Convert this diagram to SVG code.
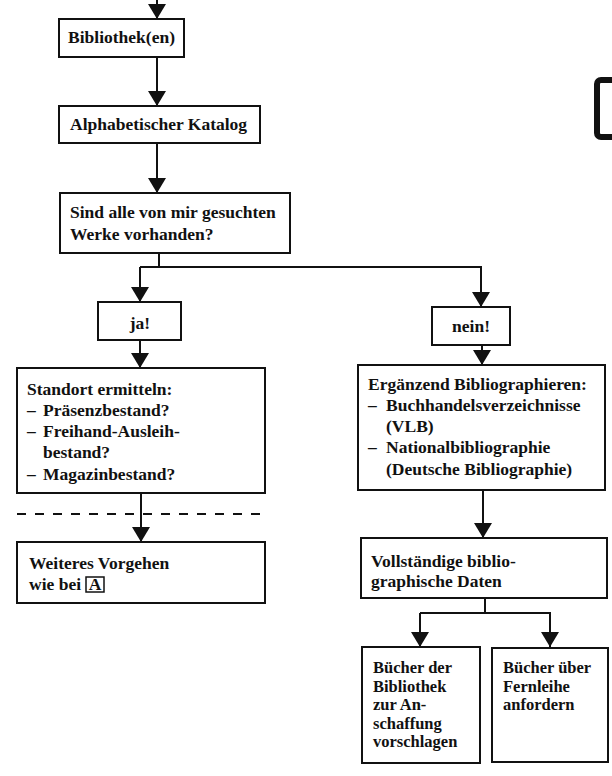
<svg xmlns="http://www.w3.org/2000/svg" width="612" height="776" viewBox="0 0 612 776">
<style>
.box{fill:#fff;stroke:#111;stroke-width:2}
.t{font-family:"Liberation Serif","Times New Roman",serif;font-weight:bold;font-size:17.5px;fill:#111}
.s{font-size:16.5px}
.c{fill:none;stroke:#111;stroke-width:2}
</style>
<defs>
<marker id="ah" markerUnits="userSpaceOnUse" markerWidth="16" markerHeight="18" refX="15" refY="9" orient="auto" viewBox="0 0 16 18">
<path d="M0,0 L15,9 L0,18 Z" fill="#111"/>
</marker>
</defs>
<rect width="612" height="776" fill="#fff"/>
<g id="connectors">
<line class="c" x1="157" y1="0" x2="157" y2="19" marker-end="url(#ah)"/>
<line class="c" x1="157" y1="57" x2="157" y2="106" marker-end="url(#ah)"/>
<line class="c" x1="157" y1="143" x2="157" y2="193" marker-end="url(#ah)"/>
<polyline class="c" points="159,253 159,267"/>
<polyline class="c" points="140,267 481,267 481,307" marker-end="url(#ah)"/>
<line class="c" x1="140" y1="267" x2="140" y2="302" marker-end="url(#ah)"/>
<line class="c" x1="140" y1="340" x2="140" y2="368" marker-end="url(#ah)"/>
<line class="c" x1="141" y1="493" x2="141" y2="542" marker-end="url(#ah)"/>
<line class="c" x1="17" y1="514" x2="260" y2="514" stroke-dasharray="9,9"/>
<line class="c" x1="482" y1="345" x2="482" y2="365" marker-end="url(#ah)"/>
<line class="c" x1="483" y1="490" x2="483" y2="538" marker-end="url(#ah)"/>
<polyline class="c" points="485,598 485,613"/>
<polyline class="c" points="420,613 550,613 550,647" marker-end="url(#ah)"/>
<line class="c" x1="420" y1="613" x2="420" y2="647" marker-end="url(#ah)"/>
</g>
<g id="n-bibliothek">
<rect class="box" x="59" y="19" width="125" height="38"/>
<text class="t" x="68" y="43">Bibliothek(en)</text>
</g>
<g id="n-katalog">
<rect class="box" x="59" y="106" width="201" height="37"/>
<text class="t" x="70" y="130">Alphabetischer Katalog</text>
</g>
<g id="n-frage">
<rect class="box" x="60" y="193" width="230" height="60"/>
<text class="t" x="70" y="218">Sind alle von mir gesuchten</text>
<text class="t" x="70" y="240">Werke vorhanden?</text>
</g>
<g id="n-ja">
<rect class="box" x="98" y="302" width="83" height="38"/>
<text class="t" x="140" y="329" text-anchor="middle">ja!</text>
</g>
<g id="n-standort">
<rect class="box" x="17" y="368" width="248" height="125"/>
<text class="t" x="27" y="395">Standort ermitteln:</text>
<text class="t" x="27" y="416">–</text><text class="t" x="43" y="416">Präsenzbestand?</text>
<text class="t" x="27" y="437">–</text><text class="t" x="43" y="437">Freihand-Ausleih-</text>
<text class="t" x="43" y="458">bestand?</text>
<text class="t" x="27" y="480">–</text><text class="t" x="43" y="480">Magazinbestand?</text>
</g>
<g id="n-weiteres">
<rect class="box" x="17" y="542" width="248" height="61"/>
<text class="t" x="29" y="569">Weiteres Vorgehen</text>
<text class="t" x="29" y="590">wie bei</text>
<rect x="86" y="577" width="18" height="15" fill="none" stroke="#111" stroke-width="1.5"/>
<text class="t" x="95" y="590" text-anchor="middle" font-size="15">A</text>
</g>
<g id="n-nein">
<rect class="box" x="432" y="307" width="78" height="38"/>
<text class="t" x="471" y="332" text-anchor="middle">nein!</text>
</g>
<g id="n-ergaenzend">
<rect class="box" x="358" y="365" width="247" height="125"/>
<text class="t" x="368" y="390">Ergänzend Bibliographieren:</text>
<text class="t" x="368" y="411">–</text><text class="t" x="386" y="411">Buchhandelsverzeichnisse</text>
<text class="t" x="386" y="432">(VLB)</text>
<text class="t" x="368" y="453">–</text><text class="t" x="386" y="453">Nationalbibliographie</text>
<text class="t" x="386" y="475">(Deutsche Bibliographie)</text>
</g>
<g id="n-vollstaendig">
<rect class="box" x="361" y="538" width="246" height="60"/>
<text class="t" x="371" y="567">Vollständige biblio-</text>
<text class="t" x="371" y="587">graphische Daten</text>
</g>
<g id="n-anschaffung">
<rect class="box" x="362" y="647" width="118" height="116"/>
<text class="t s" x="373" y="673">Bücher der</text>
<text class="t s" x="373" y="692">Bibliothek</text>
<text class="t s" x="373" y="710">zur An-</text>
<text class="t s" x="373" y="729">schaffung</text>
<text class="t s" x="373" y="747">vorschlagen</text>
</g>
<g id="n-fernleihe">
<rect class="box" x="492" y="648" width="116" height="114"/>
<text class="t s" x="503" y="673">Bücher über</text>
<text class="t s" x="503" y="692">Fernleihe</text>
<text class="t s" x="503" y="710">anfordern</text>
</g>
<g id="n-partial">
<rect x="597" y="80" width="40" height="57" rx="4" fill="none" stroke="#111" stroke-width="6"/>
</g>
</svg>
